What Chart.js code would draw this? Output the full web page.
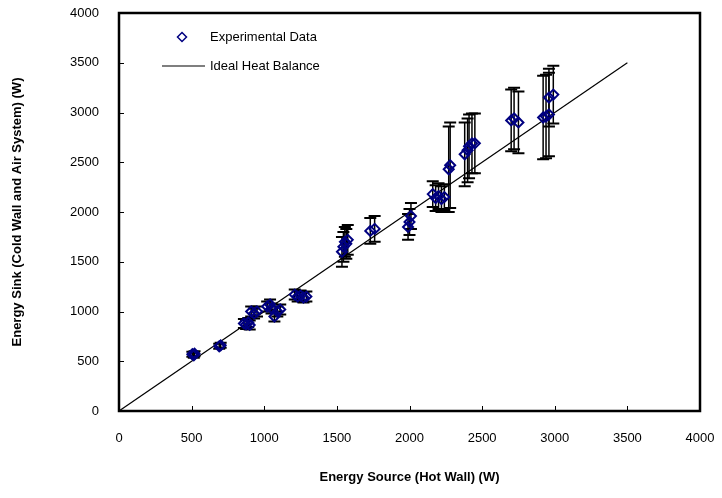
<!DOCTYPE html>
<html>
<head>
<meta charset="utf-8">
<script src="https://cdn.jsdelivr.net/npm/chart.js@4"></script>
<style>
  html, body { margin: 0; padding: 0; background: #fff; }
  #wrap { width: 722px; height: 498px; }
</style>
</head>
<body>
<div id="wrap"><canvas id="myChart" width="722" height="498"></canvas></div>
<script>
// measured heat balance points (W)
var sourceW = [505, 515, 520, 690, 700, 860, 875, 890, 900, 910, 930, 950,
  1020, 1040, 1050, 1070, 1090, 1110, 1210, 1230, 1250, 1270, 1290,
  1535, 1545, 1555, 1565, 1575, 1730, 1760, 1990, 2000, 2010,
  2160, 2180, 2200, 2220, 2240, 2270, 2280, 2380, 2400, 2410, 2430, 2450,
  2700, 2720, 2750, 2920, 2940, 2960, 2960, 2990];
var sinkW = [570, 560, 575, 650, 660, 880, 870, 890, 865, 1000, 980, 1000,
  1050, 1070, 1030, 950, 1000, 1020, 1170, 1150, 1160, 1140, 1150,
  1600, 1650, 1700, 1680, 1720, 1810, 1830, 1850, 1900, 1960,
  2180, 2140, 2160, 2130, 2150, 2430, 2470, 2580, 2620, 2660, 2690, 2690,
  2920, 2940, 2900, 2950, 2960, 2980, 3150, 3180];
var sinkErr = [25, 25, 25, 25, 25, 45, 45, 45, 45, 50, 50, 50,
  50, 50, 50, 50, 50, 50, 50, 50, 50, 50, 50,
  150, 150, 150, 150, 150, 130, 130, 130, 130, 130,
  130, 130, 130, 130, 130, 430, 430, 320, 320, 320, 300, 300,
  310, 310, 310, 420, 420, 420, 290, 290];
var idealX = [0, 3500];
var ticksVals = [0, 500, 1000, 1500, 2000, 2500, 3000, 3500, 4000];

var expPoints = sourceW.map(function (x, i) { return {x: x, y: sinkW[i]}; });
var idealPoints = idealX.map(function (x) { return {x: x, y: x}; });

var fontName = "'Liberation Sans', Arial, sans-serif";

var errorBars = {
  id: 'errorBars',
  beforeDatasetsDraw: function (chart) {
    var c = chart.ctx, xs = chart.scales.x, ys = chart.scales.y;
    c.save();
    c.strokeStyle = '#000';
    c.lineWidth = 1.5;
    for (var i = 0; i < sourceW.length; i++) {
      var px = xs.getPixelForValue(sourceW[i]);
      var top = ys.getPixelForValue(sinkW[i] + sinkErr[i]);
      var bot = ys.getPixelForValue(sinkW[i] - sinkErr[i]);
      c.beginPath();
      c.moveTo(px, top); c.lineTo(px, bot);
      c.stroke();
      c.lineWidth = 2;
      c.beginPath();
      c.moveTo(px - 6, top); c.lineTo(px + 6, top);
      c.moveTo(px - 6, bot); c.lineTo(px + 6, bot);
      c.stroke();
      c.lineWidth = 1.5;
    }
    c.restore();
  }
};

var frame = {
  id: 'frame',
  afterDraw: function (chart) {
    var c = chart.ctx, a = chart.chartArea, xs = chart.scales.x, ys = chart.scales.y;
    c.save();
    c.strokeStyle = '#000';
    c.lineWidth = 2.5;
    c.strokeRect(a.left, a.top, a.right - a.left, a.bottom - a.top);
    c.lineWidth = 1;
    c.beginPath();
    ticksVals.forEach(function (v) {
      var px = Math.round(xs.getPixelForValue(v)) + 0.5;
      c.moveTo(px, a.bottom); c.lineTo(px, a.bottom - 5);
      var py = Math.round(ys.getPixelForValue(v)) + 0.5;
      c.moveTo(a.left, py); c.lineTo(a.left + 5, py);
    });
    c.stroke();

    // legend
    c.font = '13px ' + fontName;
    c.fillStyle = '#000';
    c.textBaseline = 'middle';
    var d = 4.5, lx = 182, ly = 37;
    c.strokeStyle = '#000080';
    c.lineWidth = 1.5;
    c.beginPath();
    c.moveTo(lx, ly - d); c.lineTo(lx + d, ly); c.lineTo(lx, ly + d); c.lineTo(lx - d, ly); c.closePath();
    c.stroke();
    c.fillText(chart.data.datasets[0].label, 210, ly);
    c.strokeStyle = '#000';
    c.lineWidth = 1.2;
    c.beginPath();
    c.moveTo(162, 66); c.lineTo(205, 66);
    c.stroke();
    c.fillText(chart.data.datasets[1].label, 210, 66);
    c.restore();
  }
};

function plain(v) { return String(v); }

var ctx = document.getElementById('myChart').getContext('2d');
var myChart = new Chart(ctx, {
  type: 'scatter',
  data: {
    datasets: [{
      label: 'Experimental Data',
      data: expPoints,
      pointStyle: 'rectRot',
      pointRadius: 5,
      borderColor: '#000080',
      backgroundColor: 'rgba(0,0,0,0)',
      borderWidth: 2
    }, {
      type: 'line',
      label: 'Ideal Heat Balance',
      data: idealPoints,
      borderColor: '#000',
      borderWidth: 1.2,
      pointRadius: 0,
      fill: false
    }]
  },
  options: {
    responsive: false,
    animation: false,
    layout: { padding: { left: 0, right: 22, top: 13, bottom: 0 } },
    plugins: {
      legend: { display: false },
      tooltip: { enabled: false }
    },
    scales: {
      x: {
        type: 'linear',
        min: 0, max: 4000,
        afterFit: function (s) { s.height = 87; s.paddingLeft = 0; s.paddingRight = 0; },
        afterBuildTicks: function (s) { s.ticks = ticksVals.map(function (v) { return {value: v}; }); },
        grid: { display: false },
        border: { display: false },
        ticks: { color: '#000', padding: 12, maxRotation: 0, callback: plain, font: { family: fontName, size: 13 } },
        title: {
          display: true,
          text: 'Energy Source (Hot Wall) (W)',
          color: '#000',
          padding: { bottom: 13 },
          font: { family: fontName, size: 13, weight: 'bold' }
        }
      },
      y: {
        type: 'linear',
        min: 0, max: 4000,
        afterFit: function (s) { s.width = 119; s.paddingTop = 0; s.paddingBottom = 0; },
        afterBuildTicks: function (s) { s.ticks = ticksVals.map(function (v) { return {value: v}; }); },
        grid: { display: false },
        border: { display: false },
        ticks: { color: '#000', padding: 12, callback: plain, font: { family: fontName, size: 13 } },
        title: {
          display: true,
          text: 'Energy Sink (Cold Wall and Air System) (W)',
          color: '#000',
          padding: { top: 10 },
          font: { family: fontName, size: 13, weight: 'bold' }
        }
      }
    }
  },
  plugins: [errorBars, frame]
});
</script>
</body>
</html>
